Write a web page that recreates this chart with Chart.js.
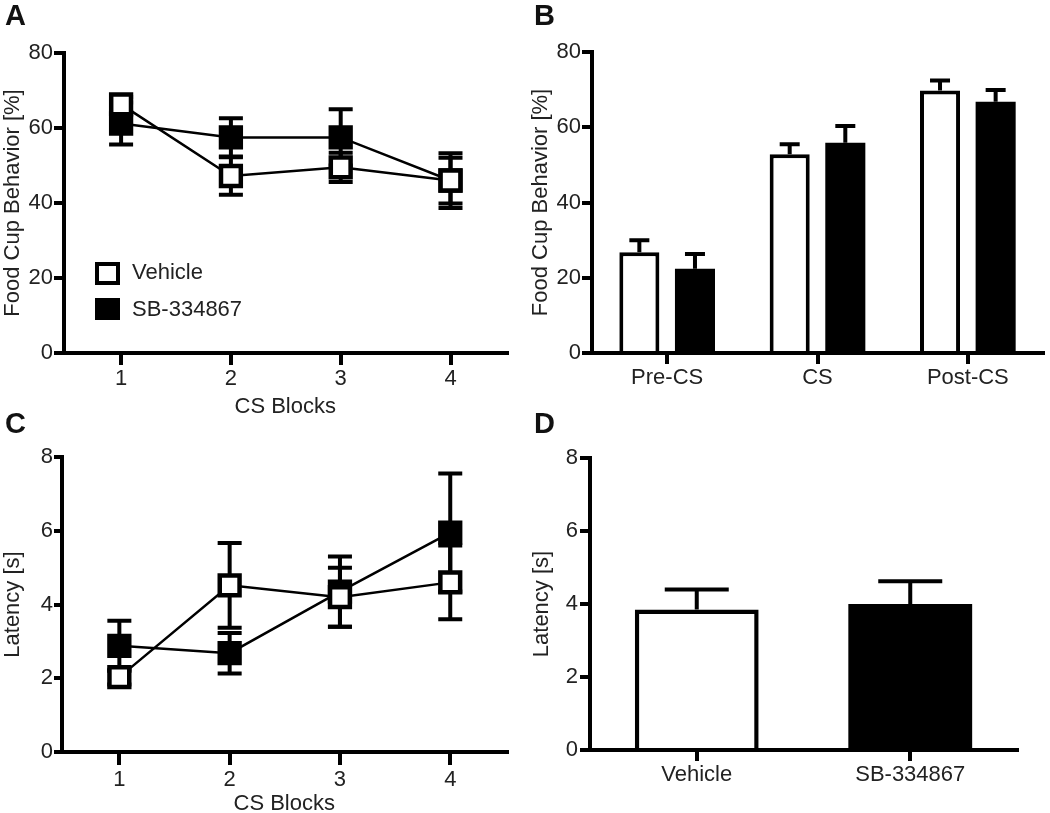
<!DOCTYPE html>
<html><head><meta charset="utf-8">
<script src="https://cdn.jsdelivr.net/npm/chart.js@4.4.1/dist/chart.umd.min.js"></script>
<style>
html,body{margin:0;padding:0;background:#fff;width:1050px;height:813px;overflow:hidden;position:relative;font-family:"Liberation Sans",Arial,sans-serif;}
canvas{position:absolute;}
.letter{position:absolute;font-weight:bold;font-size:29px;line-height:29px;color:#111;}
.lg-box{position:absolute;box-sizing:border-box;border:4px solid #000;}
.lg-text{position:absolute;font-size:22px;line-height:22px;color:#222;white-space:nowrap;}
</style></head><body>
<canvas id="cA" width="525" height="420" style="left:0;top:0"></canvas>
<canvas id="cB" width="530" height="420" style="left:520px;top:0"></canvas>
<canvas id="cC" width="525" height="410" style="left:0;top:410px"></canvas>
<canvas id="cD" width="530" height="410" style="left:520px;top:410px"></canvas>
<div class="letter" style="left:5px;top:1px">A</div>
<div class="letter" style="left:534px;top:1px">B</div>
<div class="letter" style="left:5px;top:409px">C</div>
<div class="letter" style="left:534px;top:409px">D</div>
<div class="lg-box" style="left:95px;top:262px;width:25px;height:23px;background:#fff"></div>
<div class="lg-text" style="left:132px;top:261px">Vehicle</div>
<div class="lg-box" style="left:95px;top:298px;width:25px;height:22px;background:#000"></div>
<div class="lg-text" style="left:132px;top:298px">SB-334867</div>
<script>
// ---- data ----
const blocks = [1, 2, 3, 4];
const blockTicks = ['1', '2', '3', '4'];
const foodVehicle = [66.3, 47.2, 49.5, 46.0];
const foodVehicleSem = [2.0, 5.0, 3.9, 7.3];
const foodSB = [61.2, 57.5, 57.5, 46.0];
const foodSBSem = [5.6, 5.1, 7.5, 6.1];

const phases = ['Pre-CS', 'CS', 'Post-CS'];
const phaseVehicle = [26.8, 52.8, 69.8];
const phaseVehicleSem = [3.2, 2.7, 2.6];
const phaseSB = [22.4, 55.9, 66.8];
const phaseSBSem = [3.9, 4.4, 3.1];

const latVehicle = [2.03, 4.52, 4.2, 4.6];
const latVehicleSem = [0.2, 1.15, 0.8, 1.0];
const latSB = [2.88, 2.68, 4.35, 5.95];
const latSBSem = [0.68, 0.55, 0.95, 1.6];

const groups = ['Vehicle', 'SB-334867'];
const latMean = [3.85, 4.0];
const latSem = [0.55, 0.62];

const foodRange = [0, 80, 20];
const latRange = [0, 8, 2];

// ---- styling ----
const TXT = '#222';
Chart.defaults.font.family = '"Liberation Sans", Arial, sans-serif';
Chart.defaults.font.size = 22;
Chart.defaults.color = TXT;

function drawErr(chart, layer) {
  const ctx = chart.ctx;
  chart.data.datasets.forEach((ds, di) => {
    if (!ds.errors || (ds.errorLayer || 'below') !== layer) return;
    const meta = chart.getDatasetMeta(di);
    const ys = chart.scales[meta.yAxisID];
    ctx.save();
    ctx.strokeStyle = '#000';
    ctx.lineWidth = 4;
    ctx.lineCap = 'butt';
    meta.data.forEach((el, i) => {
      const raw = ds.data[i];
      const v = (typeof raw === 'object') ? raw.y : raw;
      const e = ds.errors[i];
      const x = el.x;
      const yTop = ys.getPixelForValue(v + e);
      const yBot = ys.getPixelForValue(ds.errorDir === 'up' ? v : v - e);
      const hw = ds.capWidth / 2;
      ctx.beginPath();
      ctx.moveTo(x, yTop); ctx.lineTo(x, yBot);
      ctx.moveTo(x - hw, yTop); ctx.lineTo(x + hw, yTop);
      if (ds.errorDir !== 'up') { ctx.moveTo(x - hw, yBot); ctx.lineTo(x + hw, yBot); }
      ctx.stroke();
    });
    ctx.restore();
  });
}
const errorBars = {
  id: 'errorBars',
  beforeDatasetsDraw(chart) { drawErr(chart, 'below'); },
  afterDatasetsDraw(chart) { drawErr(chart, 'above'); }
};

function yAxis(range, title, width, tl, pad) {
  return {
    type: 'linear', min: range[0], max: range[1],
    ticks: { stepSize: range[2], padding: pad, color: TXT, font: { size: 22 } },
    grid: { drawOnChartArea: false, drawTicks: true, tickLength: tl, tickWidth: 4, tickColor: '#000', color: '#000', lineWidth: 4 },
    border: { display: true, width: 4, color: '#000' },
    title: { display: true, text: title, color: TXT, font: { size: 22 }, padding: 0 },
    afterFit(s) { s.width = width; }
  };
}
function xLinear(title, height, tl, pad, titlePad) {
  return {
    type: 'linear', min: 0.48, max: 4.51,
    afterBuildTicks(s) { s.ticks = blocks.map(v => ({ value: v })); },
    ticks: { padding: pad, color: TXT, font: { size: 22 }, maxRotation: 0, callback: (v, i) => blockTicks[i] },
    grid: { drawOnChartArea: false, drawTicks: true, tickLength: tl, tickWidth: 4, tickColor: '#000', color: '#000', lineWidth: 4 },
    border: { display: true, width: 4, color: '#000' },
    title: { display: true, text: title, color: TXT, font: { size: 22 }, padding: { top: 0, bottom: titlePad } },
    afterFit(s) { s.height = height; }
  };
}
function xCategory(height, tl, pad) {
  return {
    type: 'category', offset: true,
    ticks: { padding: pad, color: TXT, font: { size: 22 }, maxRotation: 0, autoSkip: false },
    grid: { offset: false, drawOnChartArea: false, drawTicks: true, tickLength: tl, tickWidth: 4, tickColor: '#000', color: '#000', lineWidth: 4 },
    border: { display: true, width: 4, color: '#000' },
    afterFit(s) { s.height = height; }
  };
}
function lineSet(label, xs, ys, errs, fill) {
  return {
    label, data: xs.map((x, i) => ({ x, y: ys[i] })), errors: errs, capWidth: 24, errorDir: 'both',
    showLine: true, borderColor: '#000', borderWidth: 2.5,
    pointStyle: 'rect', pointRadius: 14, pointHoverRadius: 14, pointBorderWidth: 4.5,
    pointBackgroundColor: fill, pointBorderColor: '#000'
  };
}
const common = { responsive: false, animation: false, devicePixelRatio: 1, events: [],
  plugins: { legend: { display: false }, tooltip: { enabled: false } } };

// ---- Panel A ----
new Chart(document.getElementById('cA'), {
  type: 'scatter',
  data: { datasets: [
    lineSet('Vehicle', blocks, foodVehicle, foodVehicleSem, '#fff'),
    lineSet('SB-334867', blocks, foodSB, foodSBSem, '#000')
  ] },
  options: Object.assign({}, common, {
    layout: { padding: { left: 0, top: 53, right: 10, bottom: 0 } },
    scales: { x: xLinear('CS Blocks', 67, 12, 1, 0), y: yAxis(foodRange, 'Food Cup Behavior [%]', 64, 10, 1) }
  }),
  plugins: [errorBars]
});

// ---- Panel B ----
new Chart(document.getElementById('cB'), {
  type: 'bar',
  data: { labels: phases, datasets: [
    { label: 'Vehicle', data: phaseVehicle, errors: phaseVehicleSem, errorDir: 'up', errorLayer: 'above', capWidth: 20,
      backgroundColor: '#fff', borderColor: '#000', borderWidth: 4, categoryPercentage: 0.74, barPercentage: 0.72 },
    { label: 'SB-334867', data: phaseSB, errors: phaseSBSem, errorDir: 'up', errorLayer: 'above', capWidth: 20,
      backgroundColor: '#000', borderColor: '#000', borderWidth: 0, categoryPercentage: 0.74, barPercentage: 0.72 }
  ] },
  options: Object.assign({}, common, {
    layout: { padding: { left: 8, top: 52, right: 7, bottom: 0 } },
    scales: { x: xCategory(67, 11, 1), y: yAxis(foodRange, 'Food Cup Behavior [%]', 64, 10, 1) }
  }),
  plugins: [errorBars]
});

// ---- Panel C ----
new Chart(document.getElementById('cC'), {
  type: 'scatter',
  data: { datasets: [
    lineSet('Vehicle', blocks, latVehicle, latVehicleSem, '#fff'),
    lineSet('SB-334867', blocks, latSB, latSBSem, '#000')
  ] },
  options: Object.assign({}, common, {
    layout: { padding: { left: 0, top: 47, right: 17, bottom: 0 } },
    scales: { x: xLinear('CS Blocks', 68, 13, 1.5, 3), y: yAxis(latRange, 'Latency [s]', 62, 8, 1) }
  }),
  plugins: [errorBars]
});

// ---- Panel D ----
new Chart(document.getElementById('cD'), {
  type: 'bar',
  data: { labels: groups, datasets: [
    { label: 'Latency', data: latMean, errors: latSem, errorDir: 'up', errorLayer: 'above', capWidth: 64,
      backgroundColor: ['#fff', '#000'], borderColor: '#000', borderWidth: [4.5, 0], categoryPercentage: 0.58, barPercentage: 1 }
  ] },
  options: Object.assign({}, common, {
    layout: { padding: { left: 9, top: 48, right: 33, bottom: 0 } },
    scales: { x: xCategory(70, 11, 1), y: yAxis(latRange, 'Latency [s]', 61, 10, 2) }
  }),
  plugins: [errorBars]
});
</script>
</body></html>
